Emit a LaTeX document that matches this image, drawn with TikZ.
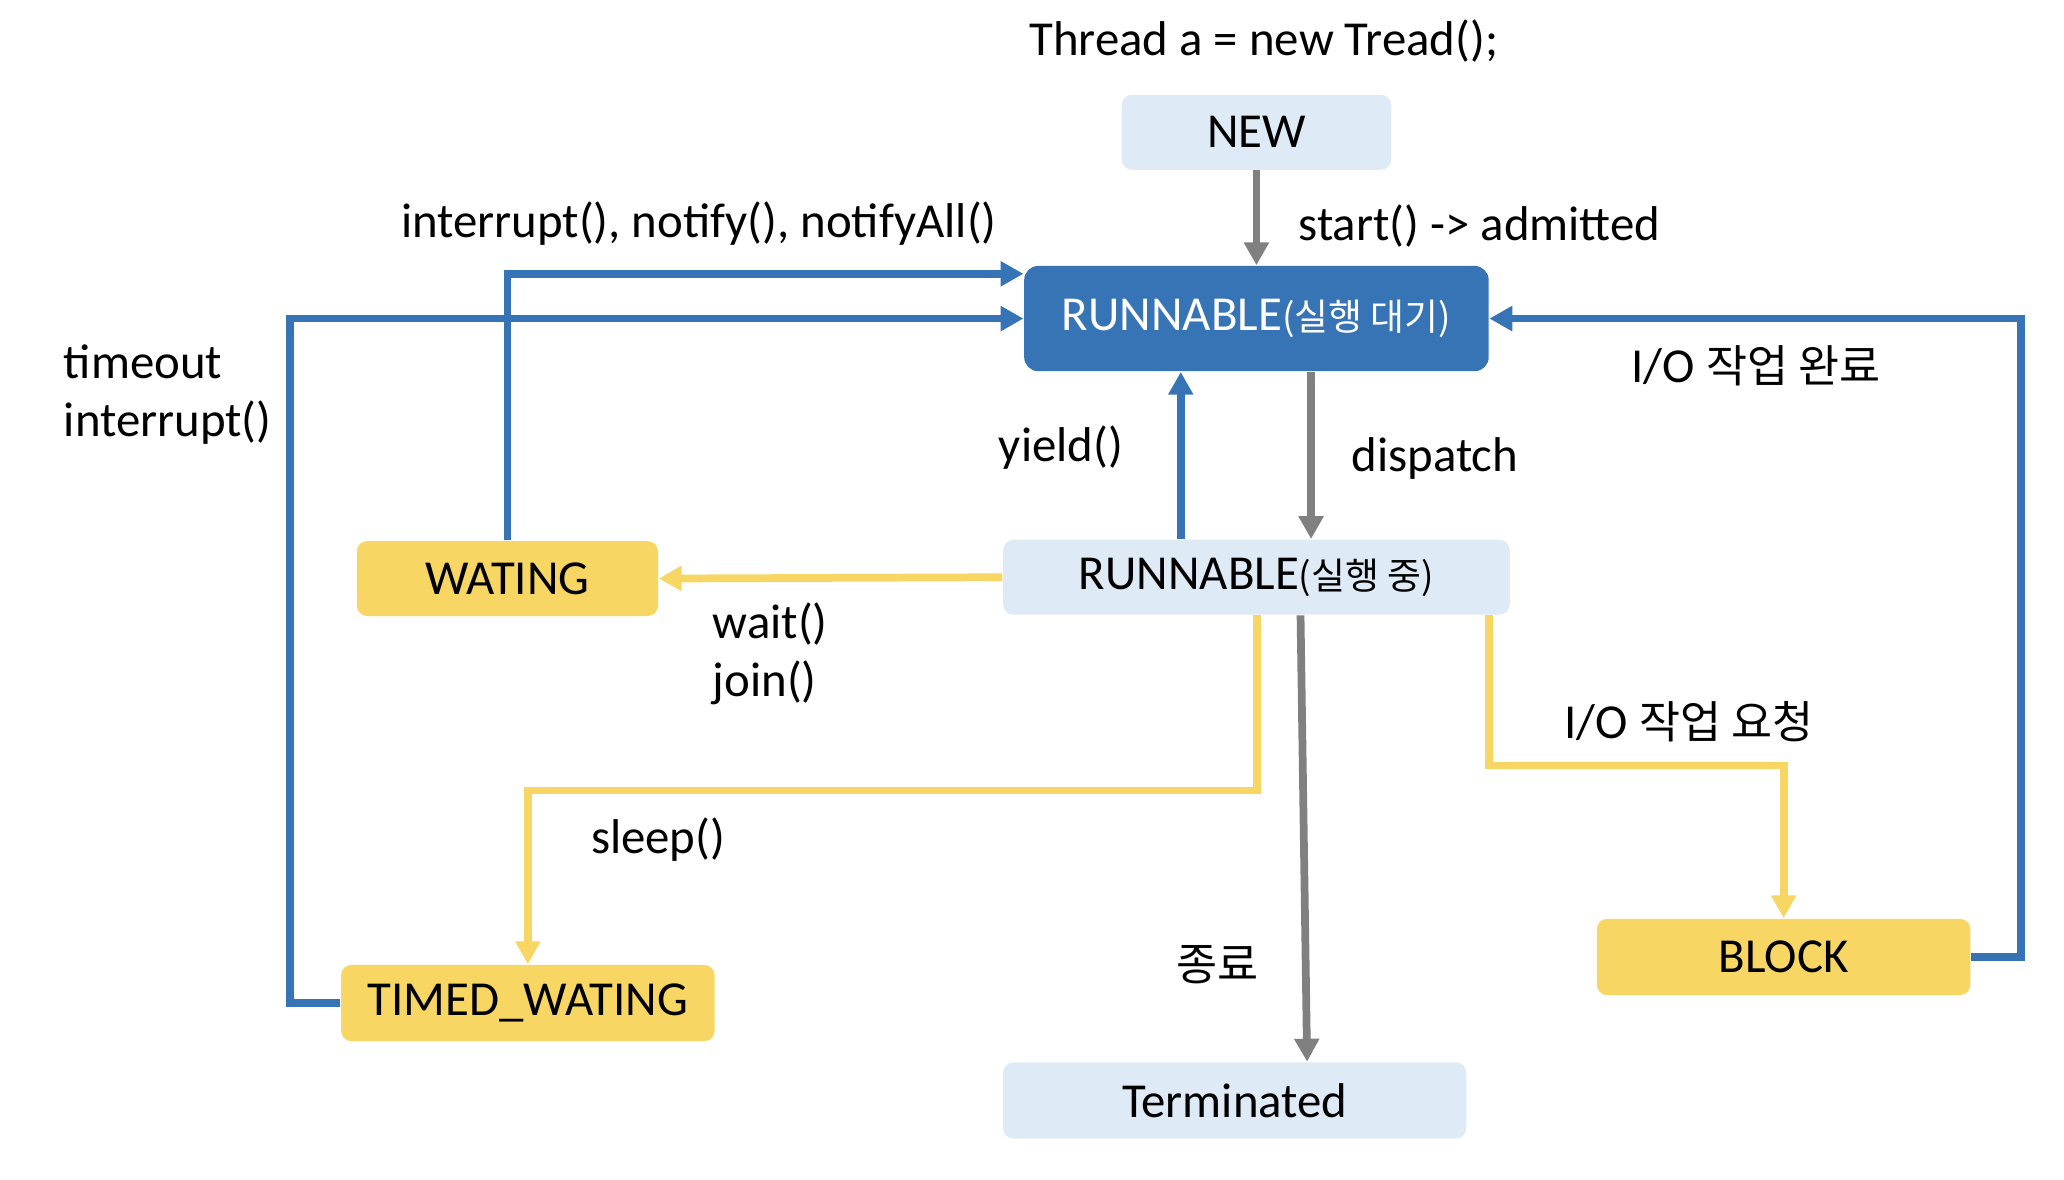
\documentclass[tikz,border=0pt]{standalone}
\usepackage{fontspec}
\setmainfont{Carlito}
\newfontfamily\kofont{Noto Sans CJK KR}
\usetikzlibrary{calc,arrows.meta}
\definecolor{state_blue}{HTML}{3674B5}
\definecolor{pale_blue}{HTML}{DEEAF6}
\definecolor{state_yellow}{HTML}{F8D663}
\definecolor{line_gray}{HTML}{808080}
\newcommand{\ko}[1]{{\kofont\fontsize{12.7}{15}\selectfont #1}}
\newcommand{\kosmall}[1]{{\kofont\fontsize{10.5}{12}\selectfont #1}}

\tikzset{
  state/.style={rounded corners=3pt, inner sep=0pt, minimum height=0.75cm, font=\fontsize{13.9}{16}\selectfont},
  label text/.style={font=\fontsize{13.9}{16.5}\selectfont, inner sep=0pt},
  arr/.style={line width=2.2pt},
}

\begin{document}
\begin{tikzpicture}[x=0.013163cm,y=-0.013163cm,>={Triangle[length=6.5pt,width=6.8pt]}]

    \useasboundingbox (0,0) rectangle (1568,896);

    % Les etats
    \node[state, fill=pale_blue, minimum width=2.698cm] (new) at (954.5,100.5) {NEW};
    \node[state, fill=state_blue, text=white, rounded corners=4pt, minimum width=4.647cm, minimum height=1.053cm] (ready) at (954.5,242) {RUNNABLE\kosmall{(실행 대기)}};
    \node[state, fill=pale_blue, minimum width=5.068cm] (running) at (954.5,438.5) {RUNNABLE\kosmall{(실행 중)}};
    \node[state, fill=state_yellow, minimum width=3.014cm] (waiting) at (385.5,439.5) {WATING};
    \node[state, fill=state_yellow, minimum width=3.738cm, minimum height=0.763cm] (timed) at (401,762) {TIMED\_WATING};
    \node[state, fill=state_yellow, minimum width=3.738cm, minimum height=0.763cm] (block) at (1355,727) {BLOCK};
    \node[state, fill=pale_blue, minimum width=4.633cm, minimum height=0.763cm] (term) at (938,836) {Terminated};

    % Les transitions
    \draw[arr, line_gray, ->] (new) -- (ready);
    \draw[arr, line_gray, ->] ($(ready.south)+(41.5,0)$) -- ($(running.north)+(41.5,0)$);
    \draw[arr, state_blue, ->] ($(running.north)+(-57.5,0)$) -- ($(ready.south)+(-57.5,0)$);
    \draw[arr, state_blue, ->] (waiting.north) |- ($(ready.west)+(0,-34)$);
    \draw[arr, state_blue, ->] (timed.west) -- ++(-38,0) |- (ready.west);
    \draw[arr, state_blue, ->] (block.east) -- ++(38,0) |- (ready.east);
    \draw[arr, state_yellow, ->] (running.west) -- (waiting.east);
    \draw[arr, state_yellow, ->] ($(running.south)+(0.5,0)$) -- ++(0,133) -| (timed.north);
    \draw[arr, state_yellow, ->] ($(running.south)+(176.5,0)$) -- ++(0,114) -| (block.north);
    \draw[arr, line_gray, ->] ($(running.south)+(33.5,0)$) -- ($(term.north)+(55,0)$);

    % Les etiquettes
    \node[label text] (title) at (960,31) {Thread a = new Tread();};
    \node[label text, anchor=west] (start) at (986,172) {start() -> admitted};
    \node[label text] (notify) at (531,170) {interrupt(), notify(), notifyAll()};
    \node[label text, anchor=west, align=left] (timeout) at (48,300) {timeout\\interrupt()};
    \node[label text] (iodone) at (1334,278) {I/O \ko{작업 완료}};
    \node[label text] (yield) at (806,340) {yield()};
    \node[label text] (dispatch) at (1090,348) {dispatch};
    \node[label text, anchor=west, align=left] (wait) at (541,497) {wait()\\join()};
    \node[label text] (sleep) at (500,638) {sleep()};
    \node[label text] (ioreq) at (1283,548) {I/O \ko{작업 요청}};
    \node[label text] (end) at (925,733) {\ko{종료}};
\end{tikzpicture}
\end{document}
